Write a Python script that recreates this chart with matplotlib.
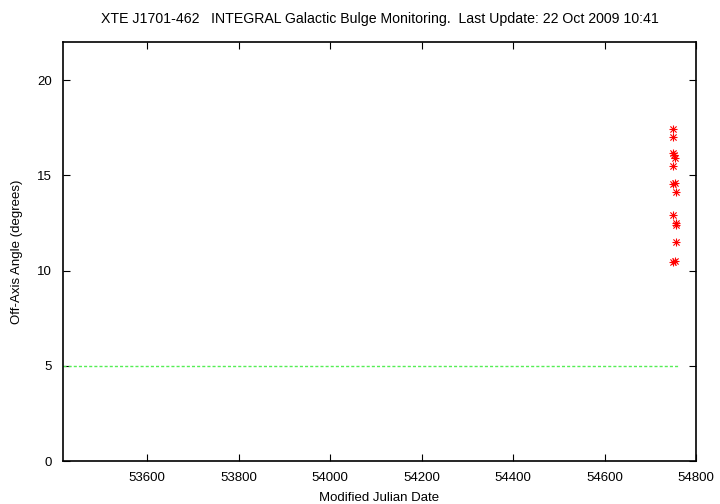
import matplotlib
matplotlib.use("Agg")
import matplotlib.pyplot as plt

# off-axis angle observations (MJD, degrees)
mjd = [54750, 54750, 54750, 54752, 54754, 54750, 54750, 54754,
       54757, 54749, 54757, 54756, 54757, 54750, 54754]
angle = [17.43, 17.02, 16.18, 16.06, 15.89, 15.49, 14.52, 14.60,
         14.14, 12.90, 12.48, 12.40, 11.51, 10.45, 10.48]

limit_x = [53416, 54760]
limit_y = [5, 5]

xticks = [53600, 53800, 54000, 54200, 54400, 54600, 54800]
yticks = [0, 5, 10, 15, 20]

plt.rcParams['font.family'] = ['Liberation Sans', 'DejaVu Sans']
plt.rcParams['font.size'] = 9.5

fig = plt.figure(figsize=(7.2, 5.04), dpi=100)
ax = fig.add_axes([63 / 720, 43 / 504, 633 / 720, 419 / 504])

ax.plot(limit_x, limit_y, color='#55ee55', linestyle=(0, (2.2, 1.5)), linewidth=1.0)
ax.scatter(mjd, angle, marker='+', color='red', s=30, linewidths=0.8)
ax.scatter(mjd, angle, marker='x', color='red', s=20, linewidths=0.8)

ax.set_xlim(53416, 54800)
ax.set_ylim(0, 22)
ax.set_xticks(xticks)
ax.set_yticks(yticks)
ax.tick_params(direction='in', top=True, right=True, length=5, width=0.8, pad=8)
for s in ax.spines.values():
    s.set_linewidth(1.2)

ax.set_xlabel('Modified Julian Date', labelpad=6)
ax.set_ylabel('Off-Axis Angle (degrees)', labelpad=10)
ax.set_title('XTE J1701-462   INTEGRAL Galactic Bulge Monitoring.  Last Update: 22 Oct 2009 10:41',
             pad=14, fontsize=10.2)

fig.savefig('out.png', dpi=100)
